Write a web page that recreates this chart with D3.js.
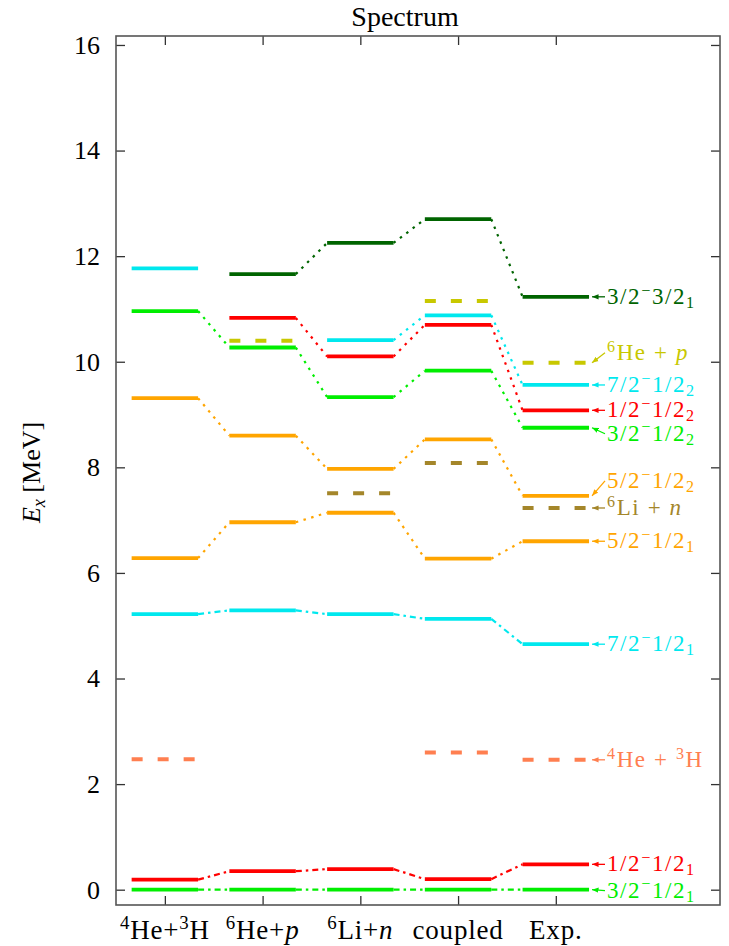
<!DOCTYPE html>
<html>
<head>
<meta charset="utf-8">
<script src="https://cdn.jsdelivr.net/npm/d3@7"></script>
<style>
  body { margin: 0; background: #fff; }
  svg text { font-family: "Liberation Serif", "DejaVu Serif", serif; }
</style>
</head>
<body>
<div id="chart"></div>
<script>
// columns (x positions 1..5)
const categories = [
    [{t: '4', sup: true}, {t: 'He+'}, {t: '3', sup: true}, {t: 'H'}],
    [{t: '6', sup: true}, {t: 'He+'}, {t: 'p', it: true}],
    [{t: '6', sup: true}, {t: 'Li+'}, {t: 'n', it: true}],
    [{t: 'coupled'}],
    [{t: 'Exp.'}]
];
const yTicks = [0, 2, 4, 6, 8, 10, 12, 14, 16];

// level energies in MeV per column, null = no level
const lvl32_32_1 = [null, 11.66, 12.25, 12.70, 11.23];
const lvl72_12_2 = [11.77, null, 10.41, 10.88, 9.56];
const lvl12_12_2 = [null, 10.83, 10.10, 10.70, 9.08];
const lvl32_12_2 = [10.96, 10.27, 9.33, 9.83, 8.75];
const lvl52_12_2 = [9.31, 8.60, 7.97, 8.53, 7.46];
const lvl52_12_1 = [6.28, 6.96, 7.14, 6.27, 6.60];
const lvl72_12_1 = [5.22, 5.29, 5.22, 5.13, 4.65];
const lvl12_12_1 = [0.19, 0.35, 0.39, 0.20, 0.48];
const lvl32_12_1 = [0, 0, 0, 0, 0];

// thresholds (dashed)
const thr6Hep = [null, 10.40, null, 11.15, 9.98];
const thr6Lin = [null, null, 7.51, 8.08, 7.23];
const thr4He3H = [2.47, null, null, 2.60, 2.46];

const series = [
    {vals: lvl32_32_1, color: '#006400', conn: 'dot', label: [{t: '3/2'}, {t: '−', sup: true}, {t: '3/2'}, {t: '1', sub: true}]},
    {vals: thr6Hep, color: '#c8c800', dashed: true, label: [{t: '6', sup: true}, {t: 'He + '}, {t: 'p', it: true}], shift: -10},
    {vals: lvl72_12_2, color: '#00e8ee', conn: 'dot', label: [{t: '7/2'}, {t: '−', sup: true}, {t: '1/2'}, {t: '2', sub: true}]},
    {vals: lvl12_12_2, color: '#ff0000', conn: 'dot', label: [{t: '1/2'}, {t: '−', sup: true}, {t: '1/2'}, {t: '2', sub: true}]},
    {vals: lvl32_12_2, color: '#00ee00', conn: 'dot', label: [{t: '3/2'}, {t: '−', sup: true}, {t: '1/2'}, {t: '2', sub: true}], shift: 6},
    {vals: lvl52_12_2, color: '#ffa500', conn: 'dot', label: [{t: '5/2'}, {t: '−', sup: true}, {t: '1/2'}, {t: '2', sub: true}], shift: -15},
    {vals: thr6Lin, color: '#a4862a', dashed: true, label: [{t: '6', sup: true}, {t: 'Li + '}, {t: 'n', it: true}]},
    {vals: lvl52_12_1, color: '#ffa500', conn: 'dot', label: [{t: '5/2'}, {t: '−', sup: true}, {t: '1/2'}, {t: '1', sub: true}]},
    {vals: lvl72_12_1, color: '#00e8ee', conn: 'dashdot', label: [{t: '7/2'}, {t: '−', sup: true}, {t: '1/2'}, {t: '1', sub: true}]},
    {vals: thr4He3H, color: '#ff7f50', dashed: true, label: [{t: '4', sup: true}, {t: 'He + '}, {t: '3', sup: true}, {t: 'H'}]},
    {vals: lvl12_12_1, color: '#ff0000', conn: 'dashdot', label: [{t: '1/2'}, {t: '−', sup: true}, {t: '1/2'}, {t: '1', sub: true}]},
    {vals: lvl32_12_1, color: '#00ee00', conn: 'dashdot', label: [{t: '3/2'}, {t: '−', sup: true}, {t: '1/2'}, {t: '1', sub: true}], shift: 1}
];

const width = 729;
const height = 946;
const margin = {top: 36, right: 9, bottom: 41, left: 116};
const halfBar = 0.34;

const svg = d3.select('#chart')
    .append('svg')
        .attr('width', width)
        .attr('height', height);

const x = d3.scaleLinear()
    .domain([0.5, 6.68])
    .range([margin.left, width - margin.right]);
const y = d3.scaleLinear()
    .domain([-0.29, 16.17])
    .range([height - margin.bottom, margin.top]);

// write text with super/subscripts as tspans
function richText(sel, segs, size) {
    let off = 0;
    segs.forEach(s => {
        let target = 0;
        if (s.sup) target = -0.36 * size;
        if (s.sub) target = 0.18 * size;
        sel.append('tspan')
            .attr('dy', target - off)
            .attr('font-size', (s.sup || s.sub) ? size * 0.7 : size)
            .attr('font-style', s.it ? 'italic' : null)
            .text(s.t);
        off = target;
    });
}

// axes
svg.append('g')
    .attr('transform', `translate(${margin.left},0)`)
    .call(d3.axisLeft(y).tickValues(yTicks).tickSize(-9).tickPadding(16))
    .call(g => g.select('.domain').remove())
    .call(g => g.selectAll('text').attr('font-size', 26).attr('fill', '#000')
        .attr('font-family', '"Liberation Serif", serif'));
svg.append('g')
    .attr('transform', `translate(${width - margin.right},0)`)
    .call(d3.axisRight(y).tickValues(yTicks).tickSize(-9).tickFormat(''))
    .call(g => g.select('.domain').remove());
svg.append('g')
    .attr('transform', `translate(0,${height - margin.bottom})`)
    .call(d3.axisBottom(x).tickValues([1, 2, 3, 4, 5]).tickSize(-9).tickFormat(''))
    .call(g => g.select('.domain').remove());
svg.append('g')
    .attr('transform', `translate(0,${margin.top})`)
    .call(d3.axisTop(x).tickValues([1, 2, 3, 4, 5]).tickSize(-9).tickFormat(''))
    .call(g => g.select('.domain').remove());
svg.selectAll('.tick line').attr('stroke', '#333').attr('stroke-width', 1.3);

svg.append('rect')
    .attr('x', margin.left)
    .attr('y', margin.top)
    .attr('width', width - margin.right - margin.left)
    .attr('height', height - margin.bottom - margin.top)
    .attr('fill', 'none')
    .attr('stroke', '#555')
    .attr('stroke-width', 1.6);

// category labels
categories.forEach((segs, i) => {
    const t = svg.append('text')
        .attr('x', x(i + 1))
        .attr('y', height - 7)
        .attr('text-anchor', 'middle')
        .attr('letter-spacing', 0.8)
        .attr('font-size', 27);
    richText(t, segs, 27);
});

// title and y label
svg.append('text')
    .attr('x', 405)
    .attr('y', 26)
    .attr('text-anchor', 'middle')
    .attr('font-size', 28)
    .text('Spectrum');
const yl = svg.append('text')
    .attr('transform', `translate(40,${(margin.top + height - margin.bottom) / 2 + 2}) rotate(-90)`)
    .attr('text-anchor', 'middle')
    .attr('font-size', 26);
richText(yl, [{t: 'E', it: true}, {t: 'x', sub: true, it: true}, {t: ' [MeV]'}], 26);

// connectors
const connDash = {dot: '2.5,5.5', dashdot: '6,4,2.5,4'};
const connGroup = svg.append('g').attr('fill', 'none').attr('stroke-width', 2.2);
series.filter(s => s.conn).forEach(s => {
    for (let i = 0; i < s.vals.length - 1; i++) {
        if (s.vals[i] === null || s.vals[i + 1] === null) continue;
        connGroup.append('line')
            .attr('x1', x(i + 1 + halfBar))
            .attr('y1', y(s.vals[i]))
            .attr('x2', x(i + 2 - halfBar))
            .attr('y2', y(s.vals[i + 1]))
            .attr('stroke', s.color)
            .attr('stroke-dasharray', connDash[s.conn]);
    }
});

// level bars
const barGroup = svg.append('g');
series.forEach(s => {
    barGroup.selectAll(null)
        .data(s.vals.map((v, i) => ({v, i})).filter(d => d.v !== null))
        .join('line')
            .attr('x1', d => x(d.i + 1 - halfBar))
            .attr('x2', d => x(d.i + 1 + halfBar))
            .attr('y1', d => y(d.v))
            .attr('y2', d => y(d.v))
            .attr('stroke', s.color)
            .attr('stroke-width', s.dashed ? 4 : 3.8)
            .attr('stroke-dasharray', s.dashed ? '11,15' : null);
});

// right-hand labels with small arrows to the Exp. levels
const defs = svg.append('defs');
const labelX = 607;
const barEnd = x(5 + halfBar);
series.forEach((s, k) => {
    const v = s.vals[4];
    const ty = y(v) + (s.shift || 0);
    defs.append('marker')
        .attr('id', 'arr' + k)
        .attr('viewBox', '0 0 10 10')
        .attr('refX', 10).attr('refY', 5)
        .attr('markerWidth', 5).attr('markerHeight', 5)
        .attr('orient', 'auto')
        .append('path')
            .attr('d', 'M0,1 L10,5 L0,9 z')
            .attr('fill', s.color);
    svg.append('line')
        .attr('x1', labelX - 2)
        .attr('y1', ty)
        .attr('x2', barEnd + 3)
        .attr('y2', y(v))
        .attr('stroke', s.color)
        .attr('stroke-width', 1.3)
        .attr('marker-end', `url(#arr${k})`);
    const t = svg.append('text')
        .attr('x', labelX)
        .attr('y', ty + 7)
        .attr('fill', s.color)
        .attr('letter-spacing', 1.6)
        .attr('font-size', 23);
    richText(t, s.label, 23);
});
</script>
</body>
</html>
